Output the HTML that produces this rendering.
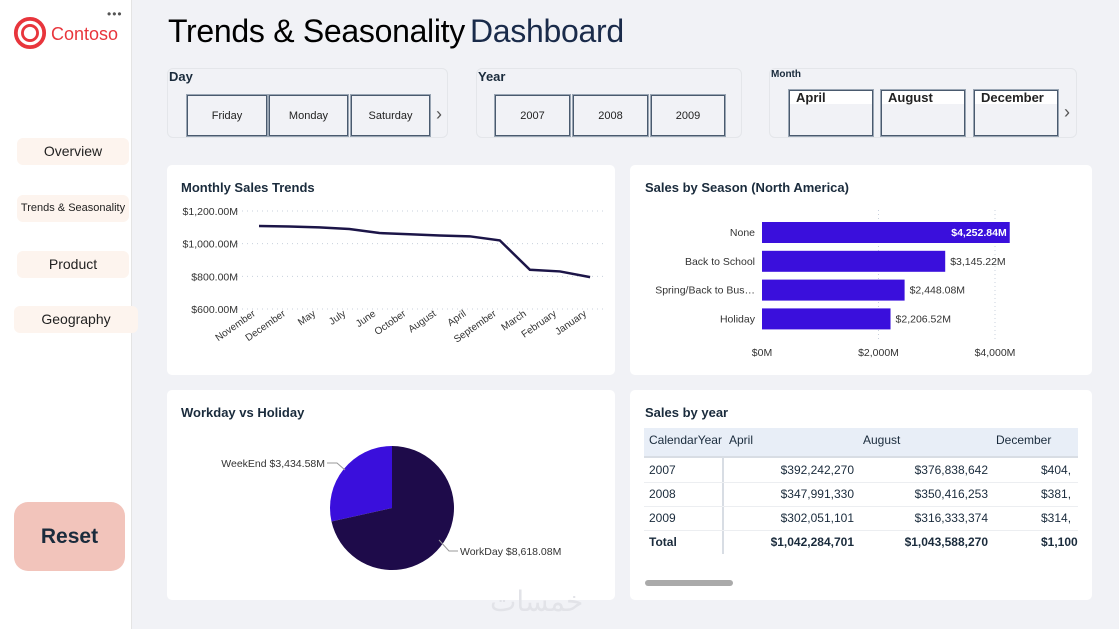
<!DOCTYPE html>
<html><head><meta charset="utf-8"><style>
*{box-sizing:border-box;margin:0;padding:0}
body{width:1119px;height:629px;background:#f1f2f6;font-family:"Liberation Sans",sans-serif;position:relative;overflow:hidden;color:#1a2b3c}
.abs{position:absolute}
.card{position:absolute;background:#fff;border-radius:5px}
.nav{position:absolute;background:#fdf4ee;border-radius:6px;text-align:center;color:#222}
.slicer{position:absolute;border:1px solid #e4e6ea;border-radius:6px;background:#f1f2f6}
.btn{position:absolute;border:1px solid #4a5a6e;outline:1px solid #9aa6b4;background:#f1f2f6;font-size:11px;display:flex;align-items:center;justify-content:center;color:#222}
.ttl{position:absolute;font-weight:bold;font-size:13px;color:#1a2b3c}
</style></head><body>
<div class="abs" style="left:0;top:0;width:132px;height:629px;background:#fff;border-right:1px solid #e4e4e4"></div>
<div class="abs" style="left:107px;top:7px;font-size:12px;color:#555;letter-spacing:1px">•••</div>
<svg class="abs" style="left:13px;top:16px" width="34" height="34" viewBox="0 0 36 36"><circle cx="18" cy="18" r="15" fill="none" stroke="#e8353c" stroke-width="4"/><circle cx="18" cy="18" r="8" fill="none" stroke="#e8353c" stroke-width="3"/></svg>
<div class="abs" style="left:51px;top:24px;font-size:18px;color:#e8353c">Contoso</div>
<div class="nav" style="left:17px;top:138px;width:112px;height:27px;line-height:27px;font-size:14px">Overview</div>
<div class="nav" style="left:17px;top:195px;width:112px;height:27px;line-height:27px;font-size:11px">Trends &amp; Seasonality</div>
<div class="nav" style="left:17px;top:251px;width:112px;height:27px;line-height:27px;font-size:14px">Product</div>
<div class="nav" style="left:14px;top:306px;width:124px;height:27px;line-height:27px;font-size:14px">Geography</div>
<div class="abs" style="left:14px;top:502px;width:111px;height:69px;background:#f2c4bb;border-radius:14px;font-weight:bold;font-size:21px;color:#1a2b3c;text-align:center;line-height:69px">Reset</div>

<div class="abs" style="left:168px;top:13px;font-size:32px;color:#000;white-space:nowrap;letter-spacing:-0.3px">Trends &amp; Seasonality<span style="color:#1a2b4a;margin-left:5px">Dashboard</span></div>

<div class="slicer" style="left:167px;top:68px;width:281px;height:70px"></div>
<div class="abs" style="left:169px;top:69px;font-size:13px;font-weight:bold">Day</div>
<div class="btn" style="left:187px;top:95px;width:80px;height:41px">Friday</div>
<div class="btn" style="left:269px;top:95px;width:79px;height:41px">Monday</div>
<div class="btn" style="left:351px;top:95px;width:79px;height:41px">Saturday</div>
<div class="abs" style="left:436px;top:104px;font-size:18px;color:#555">›</div>

<div class="slicer" style="left:476px;top:68px;width:266px;height:70px"></div>
<div class="abs" style="left:478px;top:69px;font-size:13px;font-weight:bold">Year</div>
<div class="btn" style="left:495px;top:95px;width:75px;height:41px">2007</div>
<div class="btn" style="left:573px;top:95px;width:75px;height:41px">2008</div>
<div class="btn" style="left:651px;top:95px;width:74px;height:41px">2009</div>

<div class="slicer" style="left:769px;top:68px;width:308px;height:70px"></div>
<div class="abs" style="left:771px;top:69px;font-size:10px;font-weight:bold">Month</div>
<div class="btn" style="left:789px;top:90px;width:84px;height:46px;align-items:flex-start;justify-content:flex-start;padding-left:6px;font-weight:bold;font-size:13px;line-height:13px;background:linear-gradient(#fff 0 13px,#f1f2f6 13px)">April</div>
<div class="btn" style="left:881px;top:90px;width:84px;height:46px;align-items:flex-start;justify-content:flex-start;padding-left:6px;font-weight:bold;font-size:13px;line-height:13px;background:linear-gradient(#fff 0 13px,#f1f2f6 13px)">August</div>
<div class="btn" style="left:974px;top:90px;width:84px;height:46px;align-items:flex-start;justify-content:flex-start;padding-left:6px;font-weight:bold;font-size:13px;line-height:13px;background:linear-gradient(#fff 0 13px,#f1f2f6 13px)">December</div>
<div class="abs" style="left:1064px;top:102px;font-size:18px;color:#555">›</div>

<div class="card" style="left:167px;top:165px;width:448px;height:210px"></div>
<div class="ttl" style="left:181px;top:180px">Monthly Sales Trends</div>
<svg class="abs" id="line" style="left:167px;top:165px" width="448" height="210"></svg>

<div class="card" style="left:630px;top:165px;width:462px;height:210px"></div>
<div class="ttl" style="left:645px;top:180px">Sales by Season (North America)</div>
<svg class="abs" id="bar" style="left:630px;top:165px" width="462" height="210"></svg>

<div class="card" style="left:167px;top:390px;width:448px;height:210px"></div>
<div class="ttl" style="left:181px;top:405px">Workday vs Holiday</div>
<svg class="abs" id="pie" style="left:167px;top:390px" width="448" height="210"></svg>

<div class="card" style="left:630px;top:390px;width:462px;height:210px"></div>
<div class="ttl" style="left:645px;top:405px">Sales by year</div>
<div class="abs" style="left:644px;top:428px;width:434px;height:130px;overflow:hidden">
<div style="position:absolute;left:0;top:0;width:434px;height:30px;background:#e8eef7;border-bottom:2px solid #d8dde4"></div>
<div style="position:absolute;left:78px;top:30px;width:2px;height:96px;background:#d8dde4"></div>
<div style="position:absolute;font-size:12px;left:5px;top:5px">CalendarYear</div>
<div style="position:absolute;font-size:12px;left:85px;top:5px">April</div>
<div style="position:absolute;font-size:12px;left:219px;top:5px">August</div>
<div style="position:absolute;font-size:12px;left:352px;top:5px">December</div>
<div id="rows"></div>
</div>
<div class="abs" style="left:645px;top:580px;width:88px;height:6px;background:#aaa;border-radius:3px"></div>
<div class="abs" style="left:490px;top:585px;font-size:28px;color:#e2e3e8;font-family:'DejaVu Sans',sans-serif">خمسات</div>

<script>
const NS="http://www.w3.org/2000/svg";
function mk(p,t,a){const e=document.createElementNS(NS,t);for(const k in a)e.setAttribute(k,a[k]);p.appendChild(e);return e;}
const months=["November","December","May","July","June","October","August","April","September","March","February","January"];
const monthSales=[1108,1105,1100,1090,1065,1058,1050,1045,1020,840,830,795];
const yTicks=[600,800,1000,1200];
const line=document.getElementById('line');
const lx=i=>92+i*30.1, ly=v=>144-(v-600)/600*98;
yTicks.forEach(t=>{
 const g=mk(line,'line',{x1:70,x2:437,y1:ly(t),y2:ly(t),stroke:'#c8d0dc','stroke-dasharray':'1 4'});
 
 const tx=mk(line,'text',{x:71,y:ly(t)+4,'text-anchor':'end','font-size':10.5,fill:'#333'});
 tx.textContent='$'+t.toLocaleString('en-US')+'.00M';
 
});
const path=mk(line,'polyline',{points:monthSales.map((v,i)=>lx(i)+','+ly(v)).join(' '),fill:'none',stroke:'#1c1548','stroke-width':2.5});

months.forEach((m,i)=>{
 const t=mk(line,'text',{x:lx(i)-3,y:150,'text-anchor':'end','font-size':10,fill:'#333',transform:`rotate(-35 ${lx(i)-3} 150)`});
 t.textContent=m;
});
const seasons=["None","Back to School","Spring/Back to Bus…","Holiday"];
const seasonSales=[4252.84,3145.22,2448.08,2206.52];
const xTicks=[0,2000,4000];
const bar=document.getElementById('bar');
const bx=v=>132+v/4000*233;
xTicks.forEach(t=>{
 if(t>0){const g=mk(bar,'line',{x1:bx(t),x2:bx(t),y1:45,y2:175,stroke:'#c8d0dc','stroke-dasharray':'1 3'});}
 const tx=mk(bar,'text',{x:bx(t),y:191,'text-anchor':'middle','font-size':10.5,fill:'#333'});
 tx.textContent='$'+t.toLocaleString('en-US')+'M';
});
seasons.forEach((s,i)=>{
 const y=57+i*28.8;
 const r=mk(bar,'rect',{x:bx(0),y:y,width:bx(seasonSales[i])-bx(0),height:21,fill:'#3a0fdc'});
 
 const l=mk(bar,'text',{x:125,y:y+14,'text-anchor':'end','font-size':10.5,fill:'#333'});l.textContent=s;
 
 const lab='$'+seasonSales[i].toLocaleString('en-US',{minimumFractionDigits:2})+'M';
 const inside=i===0;
 const v=mk(bar,'text',{x:inside?bx(seasonSales[i])-3:bx(seasonSales[i])+5,y:y+14,'text-anchor':inside?'end':'start','font-size':10.5,fill:inside?'#fff':'#333','font-weight':inside?'bold':'normal'});
 v.textContent=lab;
});
const dayTypes=["WeekEnd","WorkDay"];
const dayTypeSales=[3434.58,8618.08];
const pie=document.getElementById('pie');
const cx=225,cy=118,R=62,tot=dayTypeSales.reduce((a,b)=>a+b,0);
const colors=['#3a0fdc','#1e0b4a'];
let a0=-Math.PI/2;
const ang=[-dayTypeSales[0]/tot*2*Math.PI, dayTypeSales[1]/tot*2*Math.PI];
const pt=a=>[cx+R*Math.cos(a),cy+R*Math.sin(a)];
const w0=a0+ang[0];
[[w0,a0,0],[a0,w0+2*Math.PI,1]].forEach(([s,e,i])=>{
 const p1=pt(s),p2=pt(e),large=(e-s)>Math.PI?1:0;
 const p=mk(pie,'path',{d:`M${cx},${cy}L${p1[0]},${p1[1]}A${R},${R} 0 ${large} 1 ${p2[0]},${p2[1]}Z`,fill:colors[i]});
 
});
const wl=mk(pie,'text',{x:158,y:77,'text-anchor':'end','font-size':10.5,fill:'#333'});
wl.textContent=dayTypes[0]+' $'+dayTypeSales[0].toLocaleString('en-US',{minimumFractionDigits:2})+'M';

mk(pie,'polyline',{points:'160,73 170,73 178,80',fill:'none',stroke:'#999'});
const dl=mk(pie,'text',{x:293,y:165,'font-size':10.5,fill:'#333'});
dl.textContent=dayTypes[1]+' $'+dayTypeSales[1].toLocaleString('en-US',{minimumFractionDigits:2})+'M';

mk(pie,'polyline',{points:'272,150 282,161 291,161',fill:'none',stroke:'#999'});
const years=["2007","2008","2009","Total"];
const april=["$392,242,270","$347,991,330","$302,051,101","$1,042,284,701"];
const august=["$376,838,642","$350,416,253","$316,333,374","$1,043,588,270"];
const december=["$404,","$381,","$314,","$1,100,"];
const rows=document.getElementById('rows');
years.forEach((y,i)=>{
 const top=31+i*24, b=i===3?'font-weight:bold;':'';
 const r=document.createElement('div');
 
 
 r.style.cssText=`position:absolute;left:0;top:${top}px;width:434px;height:24px;font-size:12px;${i<3?'border-bottom:1px solid #eceef1;':''}${b}`;
 r.innerHTML=`<span style="position:absolute;left:5px;top:4px">${y}</span><span style="position:absolute;right:224px;top:4px">${april[i]}</span><span style="position:absolute;right:90px;top:4px">${august[i]}</span><span style="position:absolute;left:397px;top:4px">${december[i]}</span>`;
 rows.appendChild(r);
});
</script>
</body></html>
